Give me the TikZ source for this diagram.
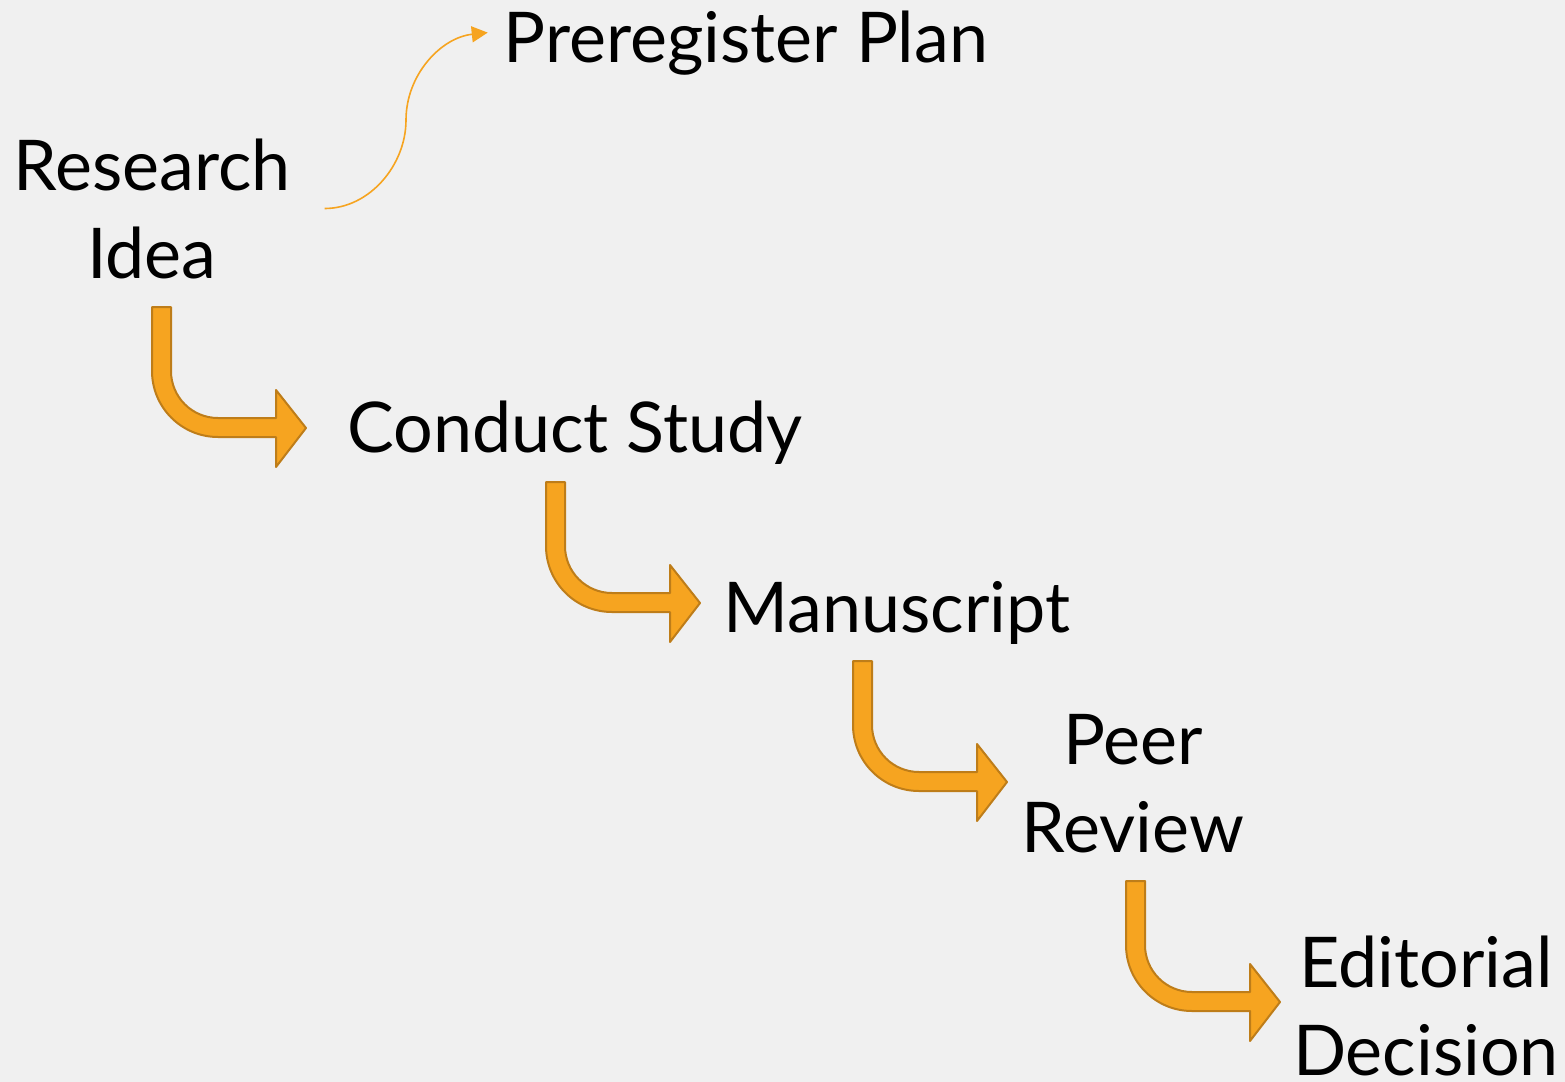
\documentclass[tikz,border=0pt]{standalone}
\usepackage{fontspec}
\setmainfont{Lato}
\definecolor{bgGray}{RGB}{240,240,240}
\definecolor{arrowFill}{RGB}{246,164,32}
\definecolor{arrowLine}{RGB}{190,125,25}
\tikzset{
  stage/.style={font=\fontsize{35}{44}\selectfont,align=center,anchor=base,text=black},
  bent/.style={fill=arrowFill,draw=arrowLine,line width=1pt,line join=round},
  link/.style={draw=arrowFill,line width=0.8pt,-{Triangle[length=8pt,width=8pt]}},
  pics/bentarrow/.style={code={
    \draw[bent] (0,0) -- (19,0) -- (19,64) arc[start angle=180,end angle=90,radius=47]
      -- (124,111) -- (124,83) -- (154,121) -- (124,160) -- (124,130) -- (66,130)
      arc[start angle=90,end angle=180,radius=66] -- cycle;
  }}
}
\usetikzlibrary{arrows.meta}
\begin{document}
\begin{tikzpicture}[x=0.5pt,y=-0.5pt]
\fill[bgGray] (0,0) rectangle (1565,1082);
\useasboundingbox (0,0) rectangle (1565,1082);

% stages (base = last line)
\node[stage] (plan) at (746,62) {Preregister Plan};
\node[stage] (idea) at (152,278) {Research\\Idea};
\node[stage] (study) at (575,452) {Conduct Study};
\node[stage] (manu) at (897,632) {Manuscript};
\node[stage] (review) at (1133,852) {Peer\\Review};
\node[stage] (decision) at (1426,1075) {Editorial\\Decision};

% block arrows
\pic at (152,307) {bentarrow};
\pic at (546,482) {bentarrow};
\pic at (853,661) {bentarrow};
\pic at (1126,881) {bentarrow};

% preregistration branch
\coordinate (bend) at (406,120);
\draw[link] ([xshift=13.5pt]idea.east) .. controls +(45,0) and +(0,45) .. (bend)
  .. controls +(0,-45) and +(-47,5) .. ([xshift=-4.5pt,yshift=5pt]plan.west);

\end{tikzpicture}
\end{document}
